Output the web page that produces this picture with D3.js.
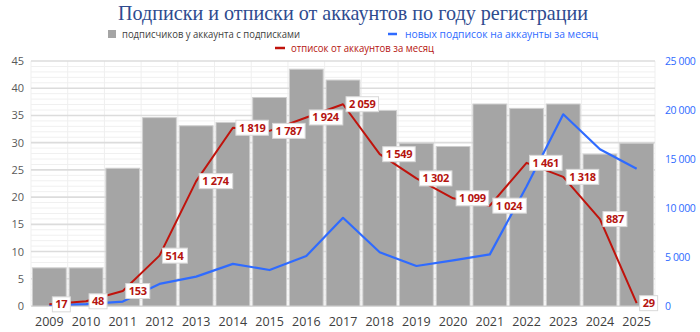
<!DOCTYPE html>
<html><head><meta charset="utf-8">
<script src="https://cdn.jsdelivr.net/npm/d3@7"></script>
<style>body{margin:0;background:#fff}svg{display:block}</style>
</head><body>
<svg id="c" width="700" height="332"></svg>
<script>
const years = ["2009","2010","2011","2012","2013","2014","2015","2016","2017","2018","2019","2020","2021","2022","2023","2024","2025"];
const subscribersPerAccount = [7, 7, 25.3, 34.6, 33.1, 33.7, 38.3, 43.5, 41.5, 35.9, 29.9, 29.3, 37.1, 36.3, 37.1, 27.9, 29.9];
const newSubscriptions = [100, 200, 450, 2250, 3000, 4300, 3670, 5100, 9000, 5480, 4080, 4650, 5270, 12200, 19560, 16000, 14000];
const unsubscriptions = [17, 48, 153, 514, 1274, 1819, 1787, 1924, 2059, 1549, 1302, 1099, 1024, 1461, 1318, 887, 29];
const leftTicks = [0,5,10,15,20,25,30,35,40,45];
const rightTicks = [0,5000,10000,15000,20000,25000];
const titleText = "Подписки и отписки от аккаунтов по году регистрации";
const legendBars = "подписчиков у аккаунта с подписками";
const legendBlue = "новых подписок на аккаунты за месяц";
const legendRed = "отписок от аккаунтов за месяц";

const L = 31, R = 655, T = 61, B = 306;
const svg = d3.select("#c");
const fmt = d3.formatLocale({decimal: ",", thousands: "\u00a0", grouping: [3], currency: ["", ""]}).format(",");

const x = d3.scaleBand().domain(years).range([L, R]).paddingInner(0.08).paddingOuter(0.04);
const yL = d3.scaleLinear().domain([0, 45]).range([B, T]);
const yR = d3.scaleLinear().domain([0, 25000]).range([B, T]);
const yRed = d3.scaleLinear().domain([0, 2500]).range([B, T]);

const g = svg.append("g");
g.selectAll("line.minor").data(d3.range(0, 46, 1).filter(v => v % 5 !== 0)).join("line")
  .attr("x1", L).attr("x2", R).attr("y1", d => yL(d)).attr("y2", d => yL(d))
  .attr("stroke", "#f0f0f0").attr("stroke-width", 1);
const step = x.step();
g.selectAll("line.v").data(d3.range(0, years.length + 1)).join("line")
  .attr("x1", i => x.range()[0] + i * step).attr("x2", i => x.range()[0] + i * step)
  .attr("y1", T).attr("y2", B).attr("stroke", "#efefef").attr("stroke-width", 1);
g.selectAll("line.major").data(leftTicks).join("line")
  .attr("x1", L).attr("x2", R).attr("y1", d => yL(d)).attr("y2", d => yL(d))
  .attr("stroke", "#dcdcdc").attr("stroke-width", 1.6);

svg.append("g").selectAll("rect").data(years).join("rect")
  .attr("x", d => x(d)).attr("width", x.bandwidth())
  .attr("y", (d, i) => yL(subscribersPerAccount[i]))
  .attr("height", (d, i) => B - yL(subscribersPerAccount[i]))
  .attr("fill", "#a5a5a5").attr("stroke", "#cfcfcf").attr("stroke-width", 1);

const axL = d3.axisLeft(yL).tickValues(leftTicks).tickSize(0).tickPadding(7);
svg.append("g").attr("transform", `translate(${L},0)`).call(axL)
  .call(s => s.select(".domain").remove())
  .selectAll("text").attr("fill", "#595959").style("font", "11px 'Open Sans', sans-serif");
const axR = d3.axisRight(yR).tickValues(rightTicks).tickSize(0).tickPadding(10).tickFormat(fmt);
svg.append("g").attr("transform", `translate(${R},0)`).call(axR)
  .call(s => s.select(".domain").remove())
  .selectAll("text").attr("fill", "#2f6bff").style("font", "10.5px 'Open Sans', sans-serif").style("letter-spacing", "-0.4px");
const axB = d3.axisBottom(x).tickSize(0).tickPadding(11);
svg.append("g").attr("transform", `translate(0,${B})`).call(axB)
  .call(s => s.select(".domain").attr("stroke", "#d9d9d9"))
  .selectAll("text").attr("fill", "#404040").style("font", "12.5px 'Open Sans', sans-serif");

const cx = d => x(d) + x.bandwidth() / 2;
svg.append("path").datum(years)
  .attr("d", d3.line().x(cx).y((d, i) => yR(newSubscriptions[i])))
  .attr("fill", "none").attr("stroke", "#2f6bff").attr("stroke-width", 2.2).attr("stroke-linejoin", "round");
svg.append("path").datum(years)
  .attr("d", d3.line().x(cx).y((d, i) => yRed(unsubscriptions[i])))
  .attr("fill", "none").attr("stroke", "#c0130c").attr("stroke-width", 2).attr("stroke-linejoin", "round");

const lab = svg.append("g").selectAll("g").data(years).join("g")
  .attr("transform", (d, i) => `translate(${cx(d) + 3},${yRed(unsubscriptions[i])})`);
lab.append("text").text((d, i) => fmt(unsubscriptions[i]))
  .attr("x", 3).attr("y", 0).attr("dy", "0.36em")
  .attr("fill", "#b5140f").style("font", "bold 11px 'Open Sans', sans-serif").style("letter-spacing", "-0.3px");
lab.each(function() {
  const gg = d3.select(this);
  const bb = gg.select("text").node().getBBox();
  gg.insert("rect", "text").attr("x", 0).attr("y", -7.5).attr("width", bb.width + 6).attr("height", 15)
    .attr("fill", "#fff").attr("stroke", "#d9d9d9").attr("stroke-width", 1);
});

svg.append("text").text(titleText).attr("x", 118).attr("y", 20)
  .attr("textLength", 470).attr("lengthAdjust", "spacingAndGlyphs")
  .attr("fill", "#2e4b8f").style("font", "21px 'Liberation Serif', serif");

const lf = "10.5px 'Open Sans', sans-serif";
svg.append("rect").attr("x", 108).attr("y", 30).attr("width", 8).attr("height", 8).attr("fill", "#a5a5a5");
svg.append("text").text(legendBars).attr("x", 122).attr("y", 38).attr("textLength", 178).attr("lengthAdjust", "spacingAndGlyphs")
  .attr("fill", "#404040").style("font", lf);
svg.append("line").attr("x1", 388).attr("x2", 397).attr("y1", 34).attr("y2", 34).attr("stroke", "#2f6bff").attr("stroke-width", 2.5);
svg.append("text").text(legendBlue).attr("x", 405).attr("y", 38).attr("textLength", 193).attr("lengthAdjust", "spacingAndGlyphs")
  .attr("fill", "#2f6bff").style("font", lf);
svg.append("line").attr("x1", 275).attr("x2", 285).attr("y1", 48).attr("y2", 48).attr("stroke", "#c0130c").attr("stroke-width", 2.5);
svg.append("text").text(legendRed).attr("x", 291).attr("y", 52).attr("textLength", 143).attr("lengthAdjust", "spacingAndGlyphs")
  .attr("fill", "#b5140f").style("font", lf);
</script>
</body></html>
